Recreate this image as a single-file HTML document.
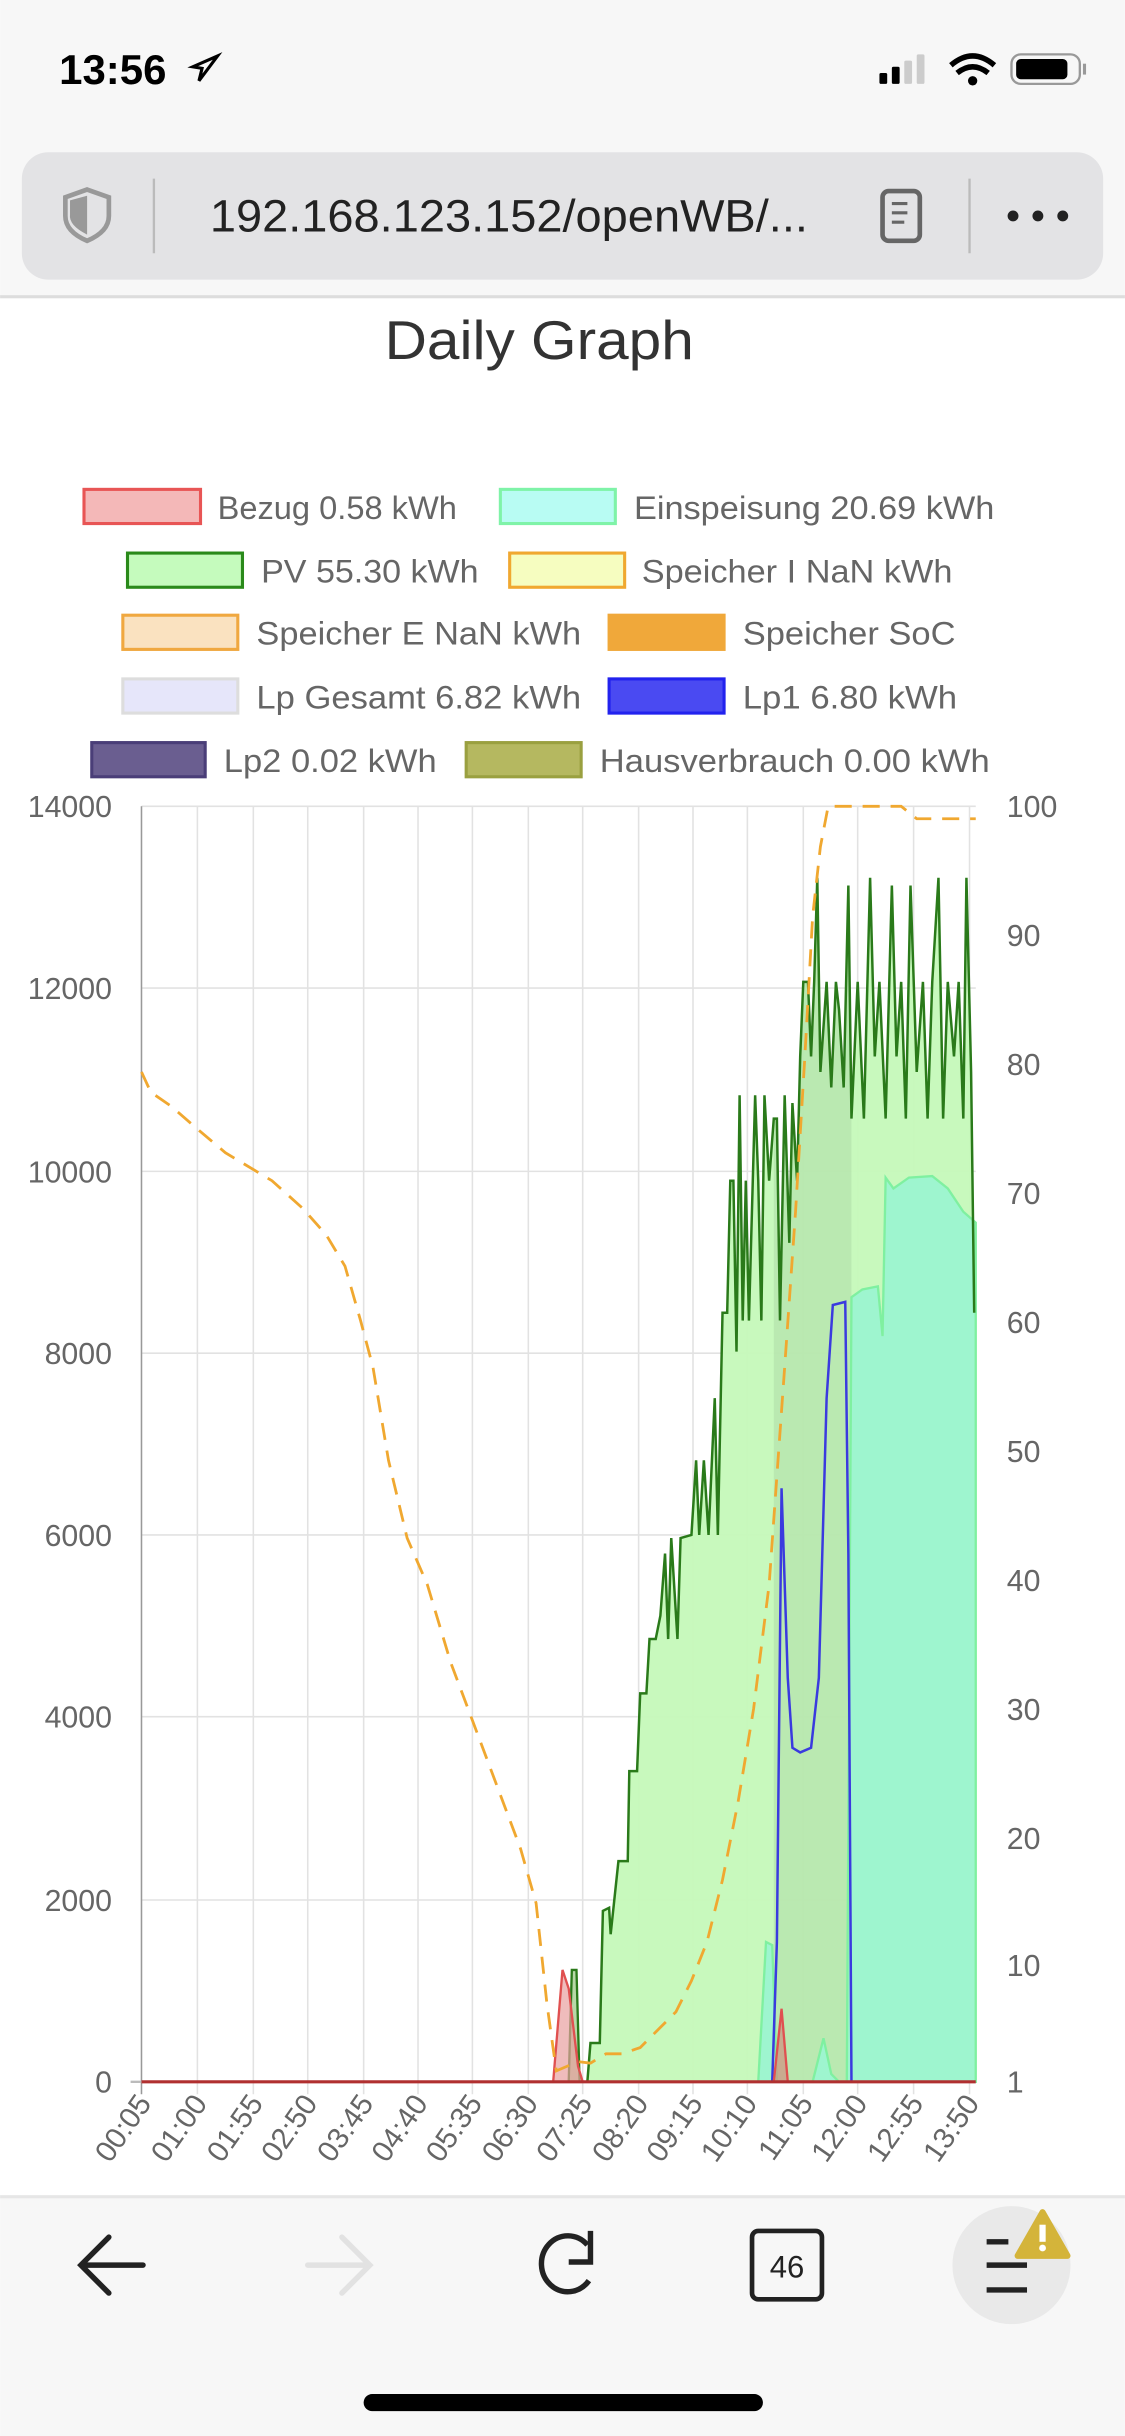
<!DOCTYPE html>
<html><head><meta charset="utf-8"><style>
html,body{margin:0;padding:0;background:#fff;width:1125px;height:2436px;overflow:hidden}
svg{display:block}
text{font-family:"Liberation Sans",sans-serif}
</style></head><body>
<svg width="1125" height="2436" viewBox="0 0 724 1568" xmlns="http://www.w3.org/2000/svg">
<defs>
<clipPath id="pvclip"><polygon id="pvpoly" points="91,1340 378,1340 380,1315 386,1315 388,1230 392,1228 393,1245 398,1198 404,1198 405,1140 410,1140 412,1090 416,1090 418,1055 422,1055 425,1040 428,1000 430,1055 432,990 436,1055 438,990 445,988 448,940 450,988 453,940 456,988 460,900 462,988 465,845 468,845 470,760 472,760 474,870 476,705 478,850 480,760 482,850 486,705 488,760 490,850 492,705 495,760 498,720 500,720 502,850 505,705 508,800 510,710 513,760 515,680 517,632 520,632 522,680 524,632 526,565 528,690 532,632 535,700 538,632 540,650 543,700 546,570 548,720 552,632 556,720 560,565 563,680 566,632 570,720 574,570 577,680 580,632 583,720 586,570 590,690 594,632 597,720 600,632 604,565 607,720 610,632 614,680 617,632 620,720 622,565 625,690 627,845 628,845 628,1340"/></clipPath>
</defs>
<rect x="0" y="0" width="724" height="191" fill="#f7f7f7"/>
<text x="38" y="54" font-size="27" font-weight="bold" fill="#000">13:56</text>
<path d="M128 52 L140 36 L124 43 L130 44 Z" fill="none" stroke="#000" stroke-width="2"/>
<rect x="566" y="47" width="5" height="7" rx="1" fill="#000"/><rect x="574" y="43" width="5" height="11" rx="1" fill="#000"/><rect x="582" y="39" width="5" height="15" rx="1" fill="#ccc"/><rect x="590" y="35" width="5" height="19" rx="1" fill="#ccc"/>
<path d="M612 42 Q626 30 640 42 M616 47 Q626 39 636 47" stroke="#000" stroke-width="3.5" fill="none"/><circle cx="626" cy="52" r="3" fill="#000"/>
<rect x="651" y="35" width="44" height="19" rx="6" fill="none" stroke="#999" stroke-width="1.5"/><rect x="654" y="38" width="33" height="13" rx="3" fill="#000"/><rect x="697" y="41" width="2" height="7" fill="#999"/>
<rect x="14" y="98" width="696" height="82" rx="17" fill="#e3e3e5"/>
<path d="M56 122 L70 127 L70 139 Q70 149 56 155 Q42 149 42 139 L42 127 Z" fill="none" stroke="#999" stroke-width="3"/><path d="M56 126 L56 151 Q44 145 45 138 L45 129 Z" fill="#999"/>
<line x1="99" y1="115" x2="99" y2="163" stroke="#bbb" stroke-width="1.5"/>
<text x="135" y="149" font-size="29.5" fill="#222" textLength="385" lengthAdjust="spacingAndGlyphs">192.168.123.152/openWB/...</text>
<rect x="568" y="123" width="24" height="32" rx="4" fill="none" stroke="#666" stroke-width="3"/><path d="M574 131h10M574 137h10M574 143h8" stroke="#666" stroke-width="2"/>
<line x1="624" y1="115" x2="624" y2="163" stroke="#bbb" stroke-width="1.5"/>
<circle cx="652" cy="139" r="3.5" fill="#222"/><circle cx="668" cy="139" r="3.5" fill="#222"/><circle cx="684" cy="139" r="3.5" fill="#222"/>
<rect x="0" y="190" width="724" height="2" fill="#ddd"/>
<text x="347" y="231" font-size="35" fill="#333" text-anchor="middle" textLength="199" lengthAdjust="spacingAndGlyphs">Daily Graph</text>
<g font-size="21" fill="#666">
<rect x="54" y="315" width="75" height="22" fill="#f4b8b8" stroke="#e85555" stroke-width="2"/><text x="140" y="334" font-size="21">Bezug 0.58 kWh</text>
<rect x="322" y="315" width="74" height="22" fill="#b8fcf3" stroke="#7ff3a8" stroke-width="2"/><text x="408" y="334" textLength="232" lengthAdjust="spacingAndGlyphs">Einspeisung 20.69 kWh</text>
<rect x="82" y="356" width="74" height="22" fill="#c5fbbd" stroke="#2a8a1a" stroke-width="2"/><text x="168" y="375" textLength="140" lengthAdjust="spacingAndGlyphs">PV 55.30 kWh</text>
<rect x="328" y="356" width="74" height="22" fill="#f6fdc0" stroke="#f0a830" stroke-width="2"/><text x="413" y="375" textLength="200" lengthAdjust="spacingAndGlyphs">Speicher I NaN kWh</text>
<rect x="79" y="396" width="74" height="22" fill="#fae2c0" stroke="#f0a840" stroke-width="2"/><text x="165" y="415" textLength="209" lengthAdjust="spacingAndGlyphs">Speicher E NaN kWh</text>
<rect x="392" y="396" width="74" height="22" fill="#f0a83a" stroke="#f0a83a" stroke-width="2"/><text x="478" y="415" textLength="137" lengthAdjust="spacingAndGlyphs">Speicher SoC</text>
<rect x="79" y="437" width="74" height="22" fill="#e6e6fa" stroke="#ddd" stroke-width="2"/><text x="165" y="456" textLength="209" lengthAdjust="spacingAndGlyphs">Lp Gesamt 6.82 kWh</text>
<rect x="392" y="437" width="74" height="22" fill="#4a4af2" stroke="#2222ee" stroke-width="2"/><text x="478" y="456" textLength="138" lengthAdjust="spacingAndGlyphs">Lp1 6.80 kWh</text>
<rect x="59" y="478" width="73" height="22" fill="#6a5e90" stroke="#4a3e78" stroke-width="2"/><text x="144" y="497" textLength="137" lengthAdjust="spacingAndGlyphs">Lp2 0.02 kWh</text>
<rect x="300" y="478" width="74" height="22" fill="#b5b860" stroke="#9aa040" stroke-width="2"/><text x="386" y="497" textLength="251" lengthAdjust="spacingAndGlyphs">Hausverbrauch 0.00 kWh</text>
</g>
<g stroke="#e2e2e2" stroke-width="1">
<line x1="91" y1="519" x2="628" y2="519"/><line x1="91" y1="636" x2="628" y2="636"/><line x1="91" y1="754" x2="628" y2="754"/><line x1="91" y1="871" x2="628" y2="871"/><line x1="91" y1="988" x2="628" y2="988"/><line x1="91" y1="1105" x2="628" y2="1105"/><line x1="91" y1="1223" x2="628" y2="1223"/>
<line x1="127" y1="519" x2="127" y2="1348"/><line x1="163" y1="519" x2="163" y2="1348"/><line x1="198" y1="519" x2="198" y2="1348"/><line x1="234" y1="519" x2="234" y2="1348"/><line x1="269" y1="519" x2="269" y2="1348"/><line x1="304" y1="519" x2="304" y2="1348"/><line x1="340" y1="519" x2="340" y2="1348"/><line x1="375" y1="519" x2="375" y2="1348"/><line x1="411" y1="519" x2="411" y2="1348"/><line x1="446" y1="519" x2="446" y2="1348"/><line x1="481" y1="519" x2="481" y2="1348"/><line x1="517" y1="519" x2="517" y2="1348"/><line x1="552" y1="519" x2="552" y2="1348"/><line x1="588" y1="519" x2="588" y2="1348"/><line x1="624" y1="519" x2="624" y2="1348"/>
</g>
<line x1="91" y1="519" x2="91" y2="1348" stroke="#999" stroke-width="1"/>
<line x1="84" y1="1340" x2="628" y2="1340" stroke="#bbb" stroke-width="1.5"/>
<use href="#pvpoly" fill="#c5f9b9" fill-opacity="0.95"/>
<rect x="498" y="500" width="50" height="840" fill="#5a7a5a" fill-opacity="0.12" clip-path="url(#pvclip)"/>
<polygon points="488,1340 493,1250 497,1252 500,1340 523,1340 530,1312 535,1335 540,1340 545,1340 548,835 555,830 565,828 568,860 570,758 575,765 585,758 600,757 610,765 620,780 628,787 628,1340" fill="#9ef5cf" stroke="#7ff0a0" stroke-width="1.5"/>
<polyline points="91,1340 378,1340 380,1315 386,1315 388,1230 392,1228 393,1245 398,1198 404,1198 405,1140 410,1140 412,1090 416,1090 418,1055 422,1055 425,1040 428,1000 430,1055 432,990 436,1055 438,990 445,988 448,940 450,988 453,940 456,988 460,900 462,988 465,845 468,845 470,760 472,760 474,870 476,705 478,850 480,760 482,850 486,705 488,760 490,850 492,705 495,760 498,720 500,720 502,850 505,705 508,800 510,710 513,760 515,680 517,632 520,632 522,680 524,632 526,565 528,690 532,632 535,700 538,632 540,650 543,700 546,570 548,720 552,632 556,720 560,565 563,680 566,632 570,720 574,570 577,680 580,632 583,720 586,570 590,690 594,632 597,720 600,632 604,565 607,720 610,632 614,680 617,632 620,720 622,565 625,690 627,845" fill="none" stroke="#2a7a1a" stroke-width="1.6"/>
<polyline points="366,1340 368,1268 371,1268 373,1340" fill="#b8d8a8" stroke="#2a7a1a" stroke-width="1.5"/>
<polyline points="497,1340 500,1250 503,958 507,1080 510,1125 515,1128 522,1125 527,1080 532,900 536,840 544,838 546,1000 548,1340" fill="none" stroke="#3a3adf" stroke-width="1.6"/>
<polygon points="356,1340 362,1268 366,1280 372,1330 375,1340" fill="#e8a0a0" fill-opacity="0.7" stroke="#e05050" stroke-width="1.5"/>
<polygon points="498,1340 503,1293 507,1340" fill="#d09080" fill-opacity="0.7" stroke="#e05050" stroke-width="1.5"/>
<line x1="91" y1="1340" x2="628" y2="1340" stroke="#b03030" stroke-width="2"/>
<polyline points="91,690 97,703 110,712 125,725 145,742 175,760 195,778 210,795 222,815 232,850 240,880 250,940 262,990 275,1020 290,1070 305,1110 320,1150 335,1190 345,1225 352,1290 358,1333 365,1330 372,1327 380,1328 390,1322 400,1322 412,1318 425,1305 435,1295 445,1275 455,1250 465,1210 475,1160 485,1100 495,1020 505,880 512,780 518,680 523,590 528,545 533,519 580,519 590,527 628,527" fill="none" stroke="#f0a830" stroke-width="1.8" stroke-dasharray="11,7"/>
<g font-size="19.5" fill="#666" text-anchor="end">
<text x="72" y="526">14000</text><text x="72" y="643">12000</text><text x="72" y="761">10000</text><text x="72" y="878">8000</text><text x="72" y="995">6000</text><text x="72" y="1112">4000</text><text x="72" y="1230">2000</text><text x="72" y="1347">0</text>
</g>
<g font-size="19.5" fill="#666">
<text x="648" y="526">100</text><text x="648" y="609">90</text><text x="648" y="692">80</text><text x="648" y="775">70</text><text x="648" y="858">60</text><text x="648" y="941">50</text><text x="648" y="1024">40</text><text x="648" y="1107">30</text><text x="648" y="1190">20</text><text x="648" y="1272">10</text><text x="648" y="1347">1</text>
</g>
<g font-size="19" fill="#666" text-anchor="end">
<text transform="translate(98,1354) rotate(-55)">00:05</text><text transform="translate(134,1354) rotate(-55)">01:00</text><text transform="translate(170,1354) rotate(-55)">01:55</text><text transform="translate(205,1354) rotate(-55)">02:50</text><text transform="translate(241,1354) rotate(-55)">03:45</text><text transform="translate(276,1354) rotate(-55)">04:40</text><text transform="translate(311,1354) rotate(-55)">05:35</text><text transform="translate(347,1354) rotate(-55)">06:30</text><text transform="translate(382,1354) rotate(-55)">07:25</text><text transform="translate(418,1354) rotate(-55)">08:20</text><text transform="translate(453,1354) rotate(-55)">09:15</text><text transform="translate(488,1354) rotate(-55)">10:10</text><text transform="translate(524,1354) rotate(-55)">11:05</text><text transform="translate(559,1354) rotate(-55)">12:00</text><text transform="translate(595,1354) rotate(-55)">12:55</text><text transform="translate(631,1354) rotate(-55)">13:50</text>
</g>
<rect x="0" y="1413" width="724" height="155" fill="#f7f7f7"/>
<rect x="0" y="1413" width="724" height="2" fill="#e6e6e6"/>
<path d="M92 1458 H53 M70 1440 L52 1458 L70 1476" stroke="#222" stroke-width="3.5" fill="none" stroke-linecap="round"/>
<path d="M198 1458 H237 M220 1440 L238 1458 L220 1476" stroke="#e2e2e2" stroke-width="3.5" fill="none" stroke-linecap="round"/>
<path d="M378 1445 A17 18 0 1 0 379 1468" stroke="#222" stroke-width="3.5" fill="none"/><path d="M380 1436 V1456 H366" stroke="#222" stroke-width="3.5" fill="none"/>
<rect x="484" y="1436" width="45" height="44" rx="4" fill="none" stroke="#222" stroke-width="3"/>
<text x="506.5" y="1466" font-size="20" fill="#222" text-anchor="middle">46</text>
<ellipse cx="651" cy="1458" rx="38" ry="38" fill="#e9e9e9"/>
<path d="M635 1443h14M635 1458h26M635 1474h26" stroke="#222" stroke-width="3.5"/>
<path d="M671 1424 L687 1452 L655 1452 Z" fill="#d4b43a" stroke="#d4b43a" stroke-width="4" stroke-linejoin="round"/>
<rect x="669" y="1432" width="4" height="11" fill="#fff"/><circle cx="671" cy="1447" r="2.2" fill="#fff"/>
<rect x="234" y="1541" width="257" height="11" rx="5.5" fill="#000"/>
</svg>
</body></html>
